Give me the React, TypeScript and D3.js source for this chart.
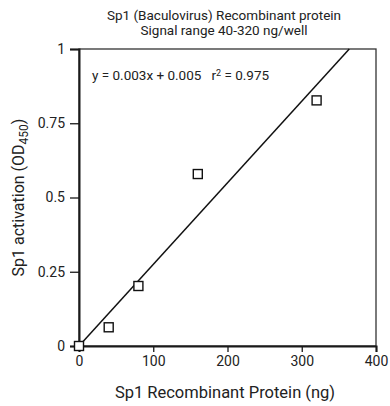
import { useEffect, useRef } from "react";
import * as d3 from "d3";

const proteinNg = [0, 40, 80, 160, 320];
const activationOD = [0, 0.063, 0.202, 0.579, 0.827];
const fitLine: [number, number][] = [[0, 0], [364, 1]];
const xTicks = [0, 100, 200, 300, 400];
const yTicks = [0, 0.25, 0.5, 0.75, 1];
const titleLines = ["Sp1 (Baculovirus) Recombinant protein", "Signal range 40-320 ng/well"];

const App = () => {
	const svgRef = useRef<SVGSVGElement>(null);

	useEffect(() => {
		const width = 390;
		const height = 406;
		const margin = { top: 49, right: 14, bottom: 59, left: 79 };
		const font = "Roboto, 'Liberation Sans', sans-serif";

		const svg = d3.select(svgRef.current);
		svg.selectAll("*").remove();

		const x = d3.scaleLinear().domain([0, 400]).range([margin.left, width - margin.right]);
		const y = d3.scaleLinear().domain([0, 1]).range([height - margin.bottom - 1, margin.top]);

		// title
		svg.append("g")
			.selectAll("text")
			.data(titleLines)
			.enter()
			.append("text")
			.attr("x", 224)
			.attr("y", (_, i) => 19.5 + i * 15)
			.attr("text-anchor", "middle")
			.style("font-family", font)
			.style("font-size", "13.5px")
			.attr("fill", "#222")
			.text((d) => d);

		// frame (top/right thin)
		svg.append("rect")
			.attr("x", x(0))
			.attr("y", y(1))
			.attr("width", x(400) - x(0))
			.attr("height", y(0) - y(1))
			.attr("fill", "none")
			.attr("stroke", "#333")
			.attr("stroke-width", 1.3);

		// x axis
		const xAxis = svg.append("g")
			.attr("transform", `translate(0,${y(0)})`)
			.call(d3.axisBottom(x).tickValues(xTicks).tickSize(6).tickPadding(4).tickFormat(d3.format("d")));
		xAxis.select(".domain").attr("stroke", "#1a1a1a").attr("stroke-width", 2);
		xAxis.selectAll(".tick line").attr("stroke", "#1a1a1a").attr("stroke-width", 1.3);
		xAxis.selectAll("text")
			.style("font-family", font)
			.style("font-size", "14px")
			.attr("fill", "#222");

		// y axis
		const yAxis = svg.append("g")
			.attr("transform", `translate(${x(0)},0)`)
			.call(d3.axisLeft(y).tickValues(yTicks).tickSize(9).tickPadding(5).tickFormat((d) => String(d)));
		yAxis.select(".domain").attr("stroke", "#1a1a1a").attr("stroke-width", 2);
		yAxis.selectAll(".tick line").attr("stroke", "#1a1a1a").attr("stroke-width", 1.3);
		yAxis.selectAll("text")
			.style("font-family", font)
			.style("font-size", "14px")
			.attr("fill", "#222");

		// fit line
		const line = d3.line<[number, number]>().x((d) => x(d[0])).y((d) => y(d[1]));
		svg.append("path")
			.datum(fitLine)
			.attr("d", line)
			.attr("fill", "none")
			.attr("stroke", "#111")
			.attr("stroke-width", 1.5);

		// data points
		const sz = 9;
		svg.append("g")
			.selectAll("rect")
			.data(proteinNg.map((p, i) => [p, activationOD[i]]))
			.enter()
			.append("rect")
			.attr("x", (d) => x(d[0]) - sz / 2)
			.attr("y", (d) => y(d[1]) - sz / 2)
			.attr("width", sz)
			.attr("height", sz)
			.attr("fill", "#fff")
			.attr("stroke", "#111")
			.attr("stroke-width", 1.4);

		// equation
		const eq = svg.append("text")
			.attr("x", 92)
			.attr("y", 80)
			.style("font-family", font)
			.style("font-size", "13.5px")
			.style("white-space", "pre")
			.attr("fill", "#222");
		eq.append("tspan").text("y = 0.003x + 0.005   r");
		eq.append("tspan").attr("dy", -4).style("font-size", "9px").text("2");
		eq.append("tspan").attr("dy", 4).text(" = 0.975");

		// axis labels
		svg.append("text")
			.attr("x", 225)
			.attr("y", 398)
			.attr("text-anchor", "middle")
			.style("font-family", font)
			.style("font-size", "16.5px")
			.attr("fill", "#222")
			.text("Sp1 Recombinant Protein (ng)");

		const yl = svg.append("text")
			.attr("transform", `translate(24,${(y(0) + y(1)) / 2}) rotate(-90)`)
			.attr("text-anchor", "middle")
			.style("font-family", font)
			.style("font-size", "16px")
			.attr("fill", "#222");
		yl.append("tspan").text("Sp1 activation (OD");
		yl.append("tspan").attr("dy", 4).style("font-size", "12px").text("450");
		yl.append("tspan").attr("dy", -4).text(")");
	}, []);

	return (
		<div style={{ position: "absolute", left: 0, top: 0, width: 390, height: 406, background: "#fff" }}>
			<svg ref={svgRef} width={390} height={406}></svg>
		</div>
	);
};

export default App;
